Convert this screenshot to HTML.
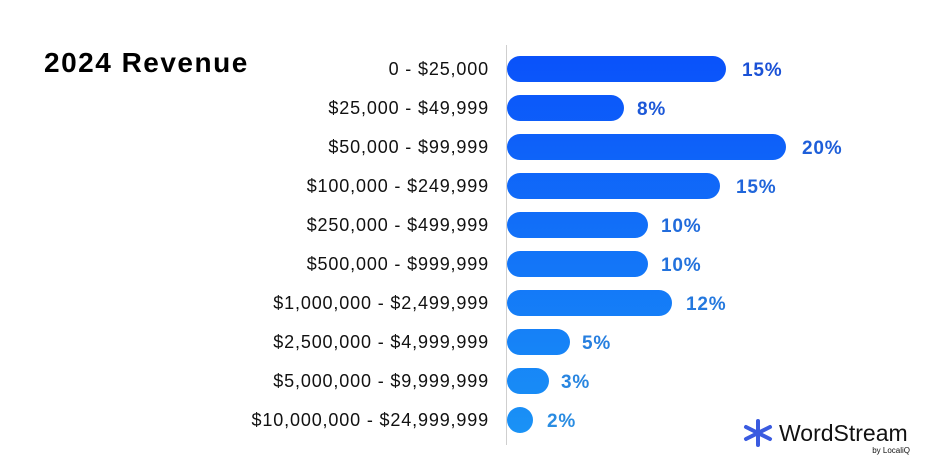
<!DOCTYPE html>
<html><head><meta charset="utf-8"><style>
body{margin:0;background:#fff;}
svg{display:block;font-family:"Liberation Sans",sans-serif;}
</style></head><body>
<svg width="937" height="469" viewBox="0 0 937 469">
<defs>
<linearGradient id="g" x1="0" y1="56" x2="0" y2="433" gradientUnits="userSpaceOnUse">
<stop offset="0" stop-color="#0a52fa"/><stop offset="1" stop-color="#1a92f6"/>
</linearGradient>
<linearGradient id="t" x1="0" y1="56" x2="0" y2="433" gradientUnits="userSpaceOnUse">
<stop offset="0" stop-color="#1a4fd6"/><stop offset="1" stop-color="#2a8ee2"/>
</linearGradient>
</defs>
<text x="44" y="72" font-size="28" font-weight="bold" letter-spacing="1.5" fill="#000">2024 Revenue</text>
<line x1="506.5" y1="45" x2="506.5" y2="445" stroke="#cfcfcf" stroke-width="1"/>
<g fill="url(#g)">
<rect x="507" y="56" width="219" height="26" rx="13"/>
<rect x="507" y="95" width="117" height="26" rx="13"/>
<rect x="507" y="134" width="279" height="26" rx="13"/>
<rect x="507" y="173" width="213" height="26" rx="13"/>
<rect x="507" y="212" width="141" height="26" rx="13"/>
<rect x="507" y="251" width="141" height="26" rx="13"/>
<rect x="507" y="290" width="165" height="26" rx="13"/>
<rect x="507" y="329" width="63" height="26" rx="13"/>
<rect x="507" y="368" width="42" height="26" rx="13"/>
<rect x="507" y="407" width="26" height="26" rx="13"/>
</g>
<g fill="url(#t)" font-size="19" font-weight="bold" letter-spacing="0.8">
<text x="742" y="76">15%</text>
<text x="637" y="115">8%</text>
<text x="802" y="154">20%</text>
<text x="736" y="193">15%</text>
<text x="661" y="232">10%</text>
<text x="661" y="271">10%</text>
<text x="686" y="310">12%</text>
<text x="582" y="349">5%</text>
<text x="561" y="388">3%</text>
<text x="547" y="427">2%</text>
</g>
<g fill="#111" font-size="18" letter-spacing="0.85" text-anchor="end">
<text x="489" y="75">0 - $25,000</text>
<text x="489" y="114">$25,000 - $49,999</text>
<text x="489" y="153">$50,000 - $99,999</text>
<text x="489" y="192">$100,000 - $249,999</text>
<text x="489" y="231">$250,000 - $499,999</text>
<text x="489" y="270">$500,000 - $999,999</text>
<text x="489" y="309">$1,000,000 - $2,499,999</text>
<text x="489" y="348">$2,500,000 - $4,999,999</text>
<text x="489" y="387">$5,000,000 - $9,999,999</text>
<text x="489" y="426">$10,000,000 - $24,999,999</text>
</g>
<g stroke="#3a5be0" stroke-width="4" stroke-linecap="round">
<line x1="758" y1="421" x2="758" y2="445"/>
<line x1="746" y1="427" x2="770" y2="439"/>
<line x1="746" y1="439" x2="770" y2="427"/>
</g>
<text x="779" y="441" font-size="23" fill="#111">WordStream</text>
<text x="910" y="453" font-size="8" fill="#111" text-anchor="end">by LocaliQ</text>
</svg>
</body></html>
